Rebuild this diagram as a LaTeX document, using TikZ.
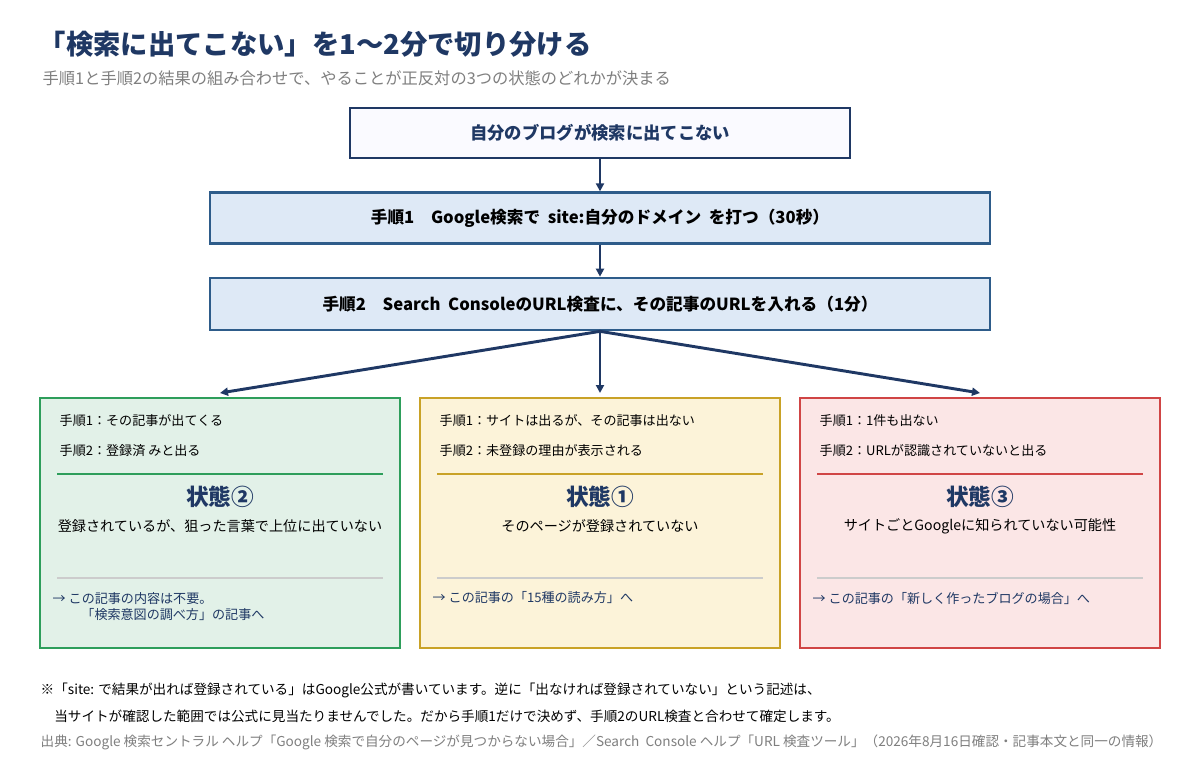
\documentclass[tikz,border=0pt]{standalone}
\usepackage{fontspec}
\setmainfont{Noto Sans CJK JP}
\usetikzlibrary{arrows.meta}
\definecolor{navy}{HTML}{1F3864}
\definecolor{mid}{HTML}{2E5C8A}
\definecolor{gtext}{HTML}{7F7F7F}
\definecolor{sfill}{HTML}{DEE9F6}
\definecolor{gfill}{HTML}{E2F1E8}\definecolor{gline}{HTML}{2E9E5B}
\definecolor{yfill}{HTML}{FCF3D9}\definecolor{yline}{HTML}{C9A227}
\definecolor{rfill}{HTML}{FBE6E6}\definecolor{rline}{HTML}{D04545}
\begin{document}
\begin{tikzpicture}[x=0.75pt,y=-0.75pt,
 stepbox/.style={draw=mid,line width=2pt,fill=sfill,text=black,font=\fontsize{12.5}{14}\selectfont\bfseries,minimum width=585pt},
 arr/.style={-{Triangle[length=6pt,width=6pt]},navy,line width=2.2pt},
 card/.style={line width=2.2pt},
 sm/.style={anchor=west,font=\fontsize{9.8}{12}\selectfont,text=black},
 foot/.style={anchor=west,font=\fontsize{10.2}{12}\selectfont}]
\useasboundingbox[fill=white] (0,0) rectangle (1200,770);
\node[anchor=west,text=navy,font=\fontsize{20.5}{23}\selectfont\bfseries] (title) at (34,44) {「検索に出てこない」を1〜2分で切り分ける};
\node[anchor=west,text=gtext,font=\fontsize{12.2}{14}\selectfont] (sub) at (38,78) {手順1と手順2の結果の組み合わせで、やることが正反対の3つの状態のどれかが決まる};
\node[draw=navy,line width=2.2pt,fill=blue!2,minimum width=375pt,minimum height=37.5pt,text=navy,font=\fontsize{13}{15}\selectfont\bfseries] (b0) at (600,133) {自分のブログが検索に出てこない};
\node[stepbox,minimum height=38pt] (b1) at (600,218) {手順1\quad Google検索で\ \ site:自分のドメイン\ \ を打つ（30秒）};
\node[stepbox,minimum height=39pt] (b2) at (600,304) {手順2\quad Search\ \ ConsoleのURL検査に、その記事のURLを入れる（1分）};
\draw[arr] (b0.south) -- (b1.north);
\draw[arr] (b1.south) -- (b2.north);
\coordinate (t1) at (220,393);\coordinate (t2) at (600,393);\coordinate (t3) at (980,393);
\draw[arr] (b2.south) -- (t1);
\draw[arr] (b2.south) -- (t2);
\draw[arr] (b2.south) -- (t3);
\foreach \x/\f/\l in {40/gfill/gline,420/yfill/yline,800/rfill/rline}{
 \draw[card,draw=\l,fill=\f] (\x,398) rectangle ++(360,250);
 \draw[\l,line width=1.5pt] (\x+17,474) -- (\x+343,474);
 \draw[black!20,line width=0.8pt] (\x+17,578) -- (\x+343,578);
}
\node[sm] (a1) at (55,421) {手順1：その記事が出てくる};
\node[sm] (a2) at (55,451) {手順2：登録済 みと出る};
\node[text=navy,font=\fontsize{17}{19}\selectfont\bfseries] (a3) at (220,497) {状態②};
\node[font=\fontsize{10.6}{12}\selectfont] (a4) at (220,526) {登録されているが、狙った言葉で上位に出ていない};
\node[sm,text=navy,align=left] (a5) at (48,607) {→ この記事の内容は不要。\\\hspace{2.2em}「検索意図の調べ方」の記事へ};
\node[sm] (b1t) at (435,421) {手順1：サイトは出るが、その記事は出ない};
\node[sm] (b2t) at (435,451) {手順2：未登録の理由が表示される};
\node[text=navy,font=\fontsize{17}{19}\selectfont\bfseries] (b3) at (600,497) {状態①};
\node[font=\fontsize{10.6}{12}\selectfont] (b4) at (600,526) {そのページが登録されていない};
\node[sm,text=navy] (b5) at (428,598) {→ この記事の「15種の読み方」へ};
\node[sm] (c1t) at (815,421) {手順1：1件も出ない};
\node[sm] (c2t) at (815,451) {手順2：URLが認識されていないと出る};
\node[text=navy,font=\fontsize{17}{19}\selectfont\bfseries] (c3) at (980,497) {状態③};
\node[font=\fontsize{10.6}{12}\selectfont] (c4) at (980,526) {サイトごとGoogleに知られていない可能性};
\node[sm,text=navy] (c5) at (808,598) {→ この記事の「新しく作ったブログの場合」へ};
\node[foot] (f1) at (36,690) {※「site: で結果が出れば登録されている」はGoogle公式が書いています。逆に「出なければ登録されていない」という記述は、};
\node[foot] (f2) at (36,716) {\hspace{1em}当サイトが確認した範囲では公式に見当たりませんでした。だから手順1だけで決めず、手順2のURL検査と合わせて確定します。};
\node[foot,text=gtext] (f3) at (36,742) {出典: Google 検索セントラル\ ヘルプ「Google 検索で自分のページが見つからない場合」／Search\ \ Console ヘルプ「URL 検査ツール」（2026年8月16日確認・記事本文と同一の情報）};
\end{tikzpicture}
\end{document}
